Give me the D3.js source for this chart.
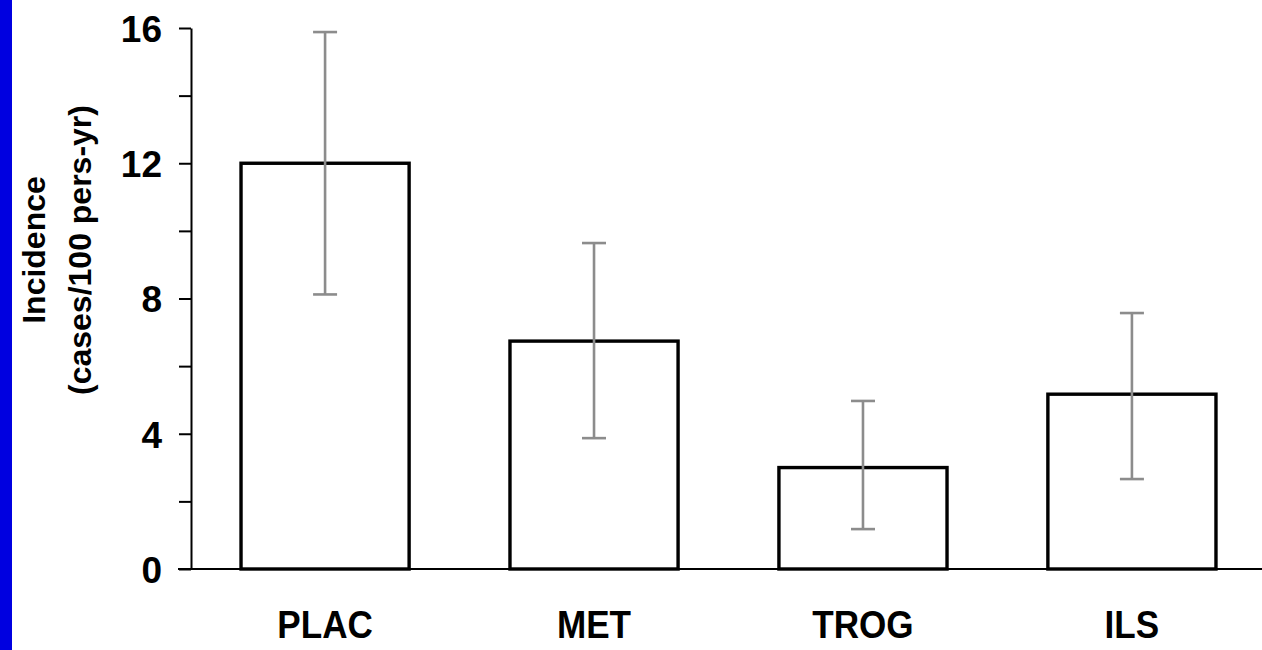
<!DOCTYPE html>
<html>
<head>
<meta charset="utf-8">
<script src="https://cdn.jsdelivr.net/npm/d3@7"></script>
<style>
  html, body { margin: 0; padding: 0; background: #fff; }
  svg { display: block; }
  text { font-family: "Liberation Sans", Arial, sans-serif; font-weight: bold; fill: #000; }
</style>
</head>
<body>
<svg id="chart" width="1262" height="650"></svg>
<script>
const categories = ["PLAC", "MET", "TROG", "ILS"];
const incidence = [12.0, 6.74, 3.0, 5.17];
const errLow = [8.12, 3.87, 1.18, 2.66];
const errHigh = [15.88, 9.64, 4.97, 7.57];
const majorTicks = [0, 4, 8, 12, 16];
const minorTicks = [2, 6, 10, 14];
const yTitleLines = ["Incidence", "(cases/100 pers-yr)"];

const svg = d3.select("#chart");

// blue strip at the left edge
svg.append("rect").attr("x", 0).attr("y", 0).attr("width", 12).attr("height", 650).attr("fill", "#0000e0");

const x = d3.scaleBand().domain(categories).range([191, 1266]).paddingInner(0.375).paddingOuter(0.186);
const y = d3.scaleLinear().domain([0, 16]).range([569, 28]);

// bars
svg.selectAll("rect.bar").data(categories).join("rect")
  .attr("class", "bar")
  .attr("x", d => x(d))
  .attr("y", (d, i) => y(incidence[i]))
  .attr("width", x.bandwidth())
  .attr("height", (d, i) => y(0) - y(incidence[i]))
  .attr("fill", "#fff")
  .attr("stroke", "#000")
  .attr("stroke-width", 3.4);

// error bars
const eg = svg.append("g").attr("stroke", "#8c8c8c").attr("stroke-width", 2.6).attr("fill", "none");
categories.forEach((c, i) => {
  const cx = x(c) + x.bandwidth() / 2;
  eg.append("line").attr("x1", cx).attr("x2", cx).attr("y1", y(errLow[i])).attr("y2", y(errHigh[i]));
  eg.append("line").attr("x1", cx - 12).attr("x2", cx + 12).attr("y1", y(errLow[i])).attr("y2", y(errLow[i]));
  eg.append("line").attr("x1", cx - 12).attr("x2", cx + 12).attr("y1", y(errHigh[i])).attr("y2", y(errHigh[i]));
});

// y axis
const yAxis = svg.append("g").attr("transform", "translate(191,0)")
  .call(d3.axisLeft(y).tickValues(majorTicks.concat(minorTicks)).tickSize(12).tickSizeOuter(0).tickFormat(d => majorTicks.includes(d) ? d : ""));
yAxis.select(".domain").attr("stroke", "#000").attr("stroke-width", 2);
yAxis.selectAll(".tick line").attr("stroke", "#000").attr("stroke-width", 2);
yAxis.selectAll(".tick text").attr("x", -29).attr("dy", "0.36em")
  .style("font-size", "37px").style("font-weight", "bold").style("font-family", "'Liberation Sans', Arial, sans-serif");

// x axis line
svg.append("line").attr("x1", 178).attr("x2", 1262).attr("y1", y(0)).attr("y2", y(0))
  .attr("stroke", "#000").attr("stroke-width", 2);

// x labels
svg.selectAll("text.xl").data(categories).join("text")
  .attr("class", "xl")
  .attr("transform", d => `translate(${x(d) + x.bandwidth() / 2},638) scale(0.9,1)`)
  .attr("text-anchor", "middle")
  .style("font-size", "39px")
  .text(d => d);

// y title
const yt = svg.append("text").attr("transform", "translate(0,250) rotate(-90)").attr("text-anchor", "middle").style("font-size", "32px");
yt.append("tspan").attr("x", 0).attr("y", 45).text(yTitleLines[0]);
yt.append("tspan").attr("x", 0).attr("y", 91).text(yTitleLines[1]);
</script>
</body>
</html>
